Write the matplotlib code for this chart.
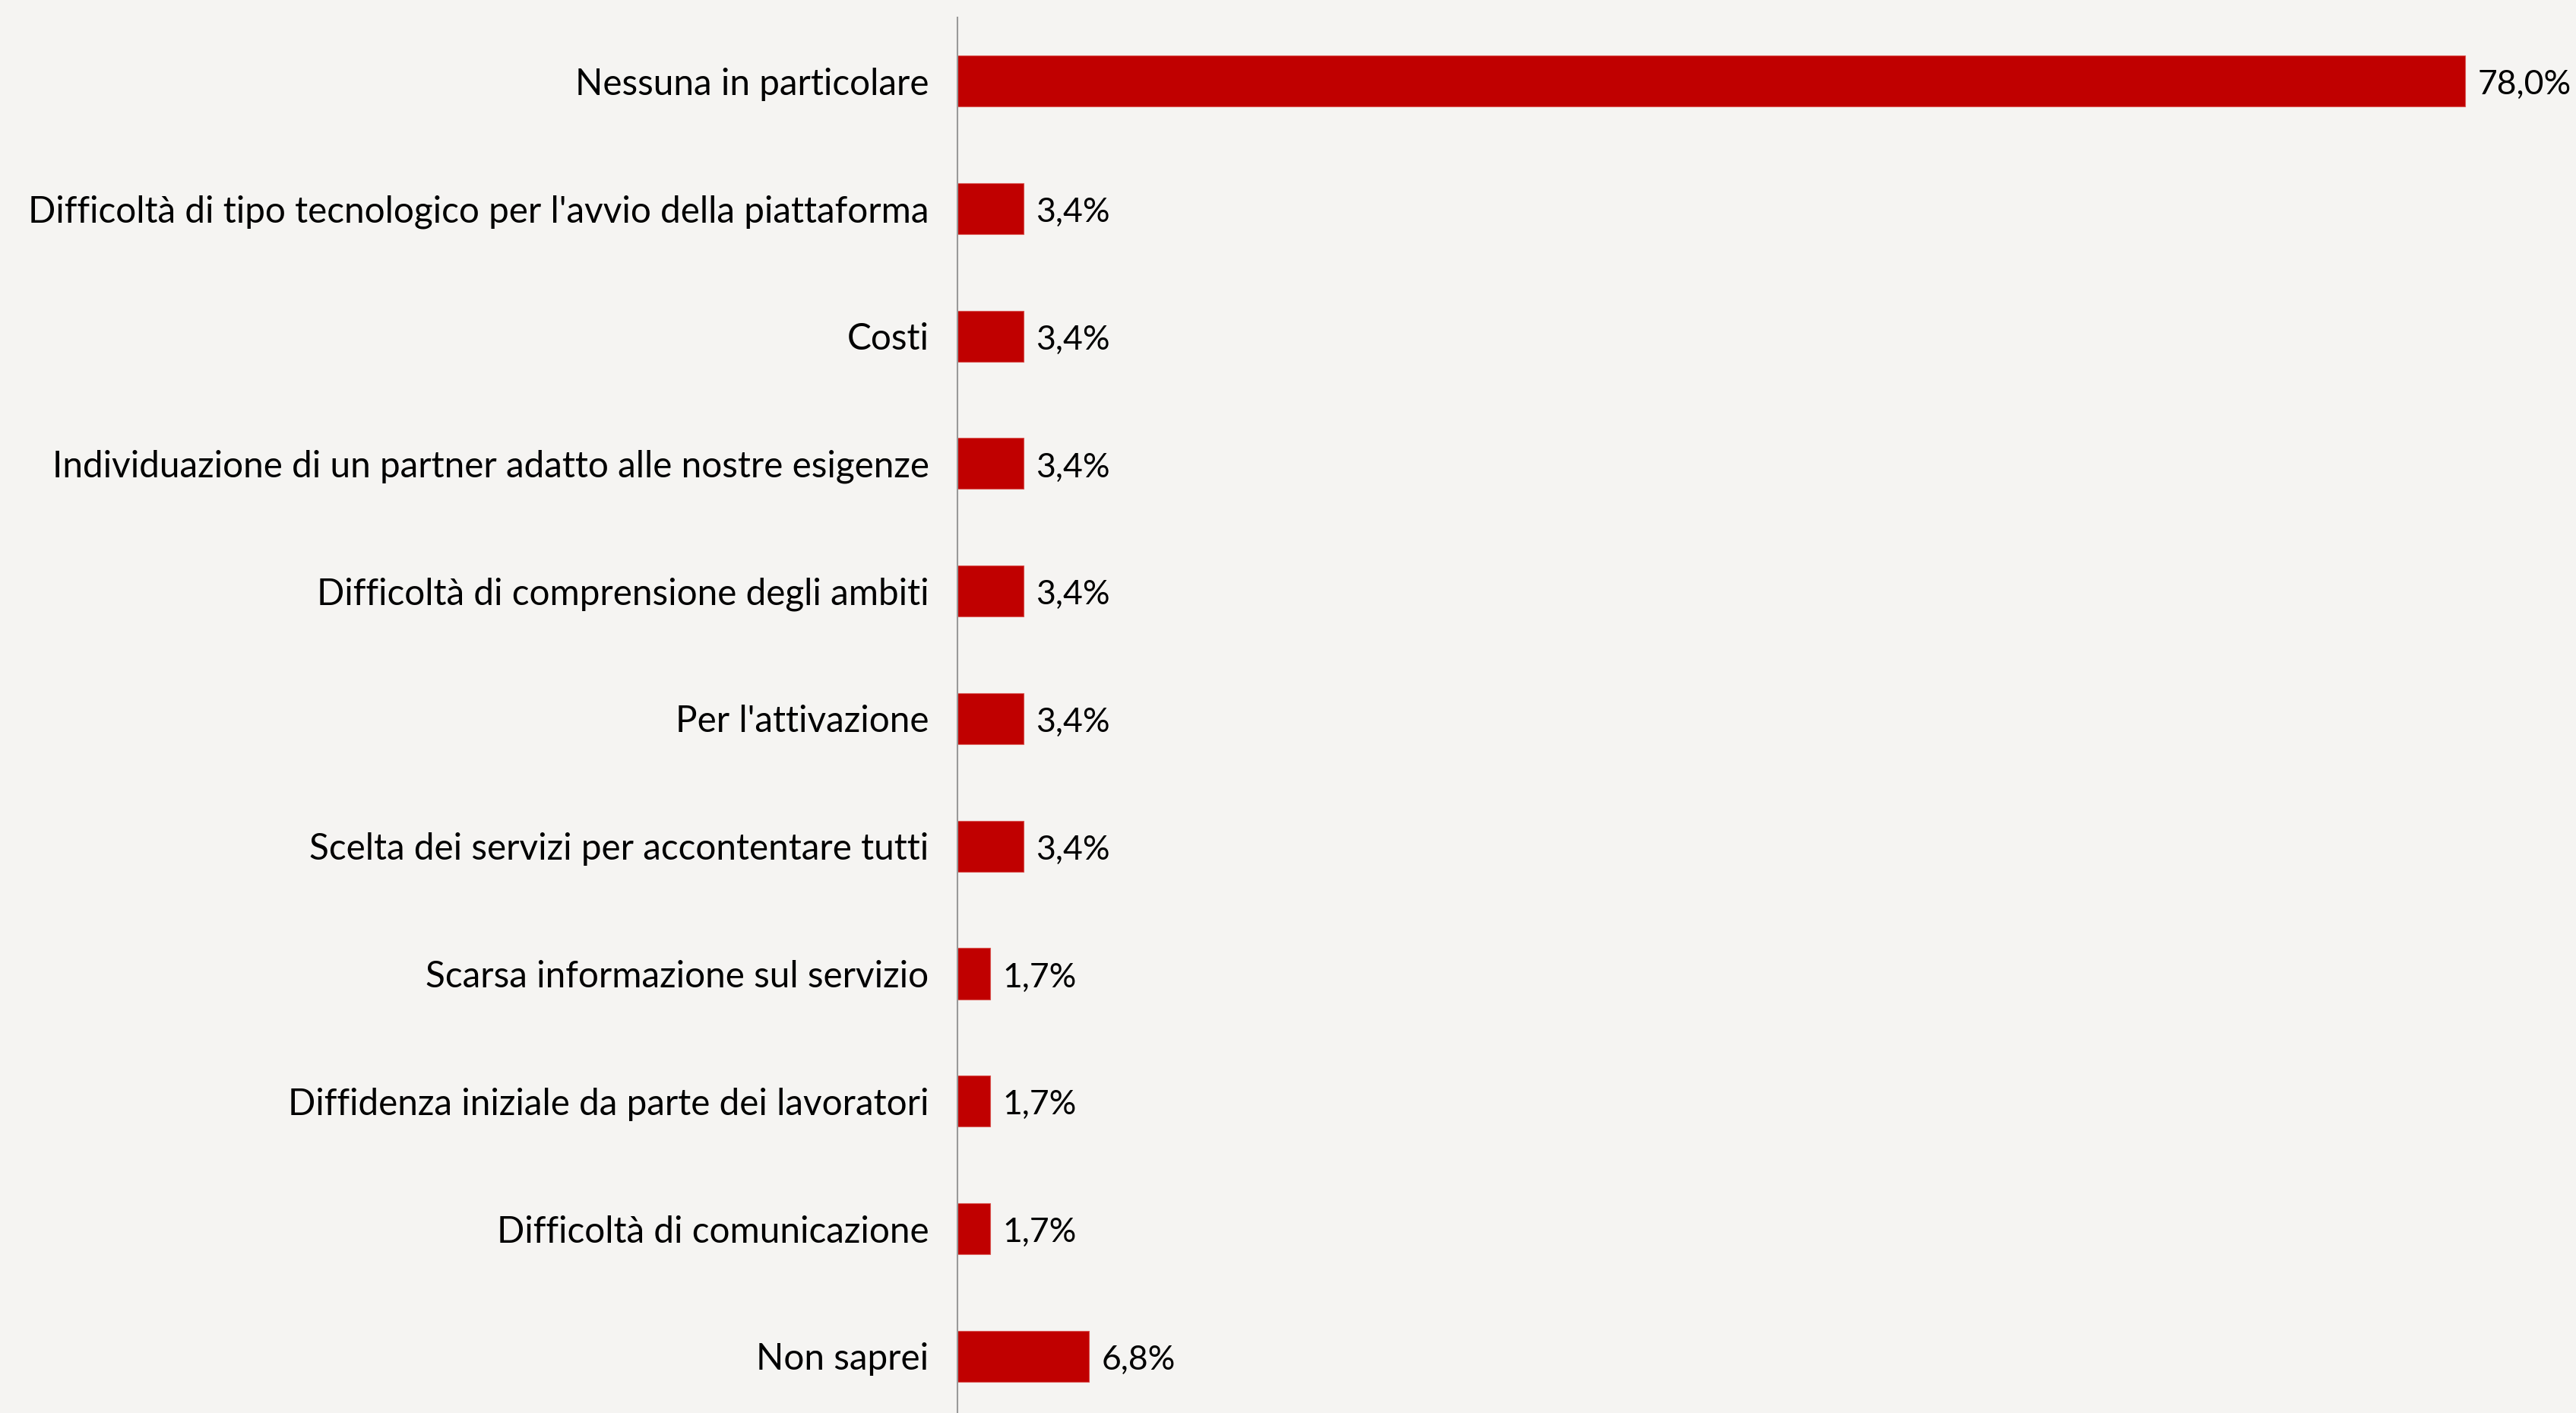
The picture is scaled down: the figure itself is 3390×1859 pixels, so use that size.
import matplotlib
matplotlib.use("Agg")
import matplotlib.pyplot as plt

categories = [
    "Nessuna in particolare",
    "Difficoltà di tipo tecnologico per l'avvio della piattaforma",
    "Costi",
    "Individuazione di un partner adatto alle nostre esigenze",
    "Difficoltà di comprensione degli ambiti",
    "Per l'attivazione",
    "Scelta dei servizi per accontentare tutti",
    "Scarsa informazione sul servizio",
    "Diffidenza iniziale da parte dei lavoratori",
    "Difficoltà di comunicazione",
    "Non saprei",
]
values = [78.0, 3.4, 3.4, 3.4, 3.4, 3.4, 3.4, 1.7, 1.7, 1.7, 6.8]

bg = "#f5f4f2"
bar_color = "#c00000"

plt.rcParams["font.family"] = ["Lato", "DejaVu Sans"]

fig = plt.figure(figsize=(33.91, 18.59), dpi=100, facecolor=bg)
ax = fig.add_axes([0.3716, -0.005, 0.6284, 0.9928])
ax.set_facecolor(bg)

ypos = list(range(len(categories)))
ax.barh(ypos, values, height=0.4, color=bar_color, edgecolor="#d9534f", linewidth=0.8)

# percentage labels next to each bar
for y, v in zip(ypos, values):
    ax.text(v + 0.65, y + 0.03, f"{v:.1f}%".replace(".", ","), va="center", ha="left",
            fontsize=32, color="black")

ax.set_yticks(ypos)
ax.set_yticklabels(categories, fontsize=34.3)
for lbl in ax.get_yticklabels():
    lbl.set_va("center_baseline")
ax.tick_params(axis="y", length=0, pad=27)
ax.set_ylim(len(categories) - 0.5, -0.5)
ax.set_xlim(0, 83.77)
ax.set_xticks([])

for side in ["top", "right", "bottom"]:
    ax.spines[side].set_visible(False)
ax.spines["left"].set_color("#999999")
ax.spines["left"].set_linewidth(1.5)

fig.savefig("out.png", dpi=100, facecolor=bg)
